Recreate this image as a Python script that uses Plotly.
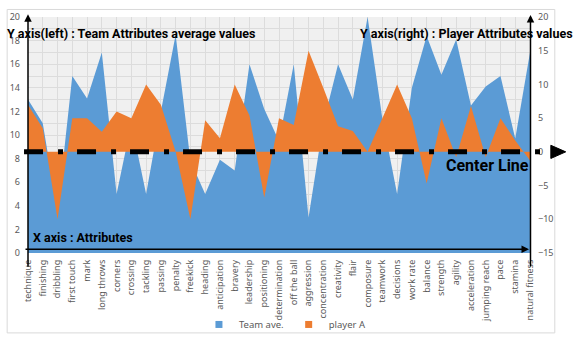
import plotly.graph_objects as go

categories = ["technique", "finishing", "dribbling", "first touch", "mark", "long throws",
              "corners", "crossing", "tackling", "passing", "penalty", "freekick", "heading",
              "anticipation", "bravery", "leadership", "positioning", "determination",
              "off the ball", "aggression", "concentration", "creativity", "flair", "composure",
              "teamwork", "decisions", "work rate", "balance", "strength", "agility",
              "acceleration", "jumping reach", "pace", "stamina", "natural fitness"]

team_ave = [13, 11, 3.5, 15, 13.1, 17, 5, 11, 5, 12, 18.5, 7.8, 5, 7.9, 7, 16, 12.2, 9.5,
            16, 3, 11, 16, 13, 20, 11.4, 5, 14, 18.4, 15.1, 18.1, 12.5, 14.1, 15, 9.7, 17]

player_a = [7, 3.5, -10, 5, 5, 3, 6, 5, 10, 7, 0, -10, 4.7, 2, 10, 5.4, -6.8, 5,
            4, 15, 9.5, 3.8, 3.1, 0, 5, 10, 5, -4.7, 5, -0.8, 6.8, -0.8, 5, 1.7, -1.3]

left_ticks = list(range(0, 21, 2))
right_ticks = list(range(-15, 21, 5))

W, H = 576, 349
L, R, T, B = 24, 530, 10, 261
BLUE = "#5B9BD5"
ORANGE = "#ED7D31"
GRAY = "#595959"


def px(x):
    return (x - L) / (R - L)


def py(y):
    return (B - y) / (B - T)


y2_min, y2_max = -15, 20
center_y = (0 - y2_min) / (y2_max - y2_min)

fig = go.Figure()
fig.add_trace(go.Scatter(x=categories, y=team_ave, name="Team ave.", mode="none",
                         fill="tozeroy", fillcolor=BLUE, yaxis="y", showlegend=False))
fig.add_trace(go.Scatter(x=categories, y=player_a, name="player A", mode="none",
                         fill="tozeroy", fillcolor=ORANGE, yaxis="y2", showlegend=False))
# legend entries (square swatches like the original)
fig.add_trace(go.Scatter(x=[None], y=[None], name="Team ave.", mode="markers",
                         marker=dict(symbol="square", size=7, color=BLUE)))
fig.add_trace(go.Scatter(x=[None], y=[None], name="player A", mode="markers",
                         marker=dict(symbol="square", size=7, color=ORANGE)))

shapes = [
    # outer chart frame
    dict(type="rect", xref="paper", yref="paper", x0=px(3), x1=px(555), y0=py(346), y1=py(2),
         line=dict(color="#d9d9d9", width=1), layer="below"),
    # center line
    dict(type="line", xref="paper", yref="paper", x0=px(20), x1=px(545), y0=center_y, y1=center_y,
         line=dict(color="black", width=5, dash="19px,15px,5px,14px")),
    dict(type="path", xref="paper", yref="paper",
         path=f"M{px(551)},{center_y + 7/(B-T)} L{px(566)},{center_y} L{px(551)},{center_y - 7/(B-T)} Z",
         fillcolor="black", line=dict(color="black", width=1)),
]

tf = dict(family="Roboto", size=12.5, color="black", weight="bold")
annotations = [
    dict(xref="paper", yref="paper", x=px(1), y=py(28), xanchor="left", yanchor="middle",
         text="Y axis(left) : Team Attributes average values", showarrow=False, font=tf),
    dict(xref="paper", yref="paper", x=px(575), y=py(28), xanchor="right", yanchor="middle",
         text="Y axis(right) : Player Attributes values", showarrow=False, font=tf),
    dict(xref="paper", yref="paper", x=px(27), y=py(245), xanchor="left", yanchor="middle",
         text="X axis : Attributes", showarrow=False, font=tf),
    dict(xref="paper", yref="paper", x=px(443), y=py(168), xanchor="left", yanchor="middle",
         text="Center Line", showarrow=False,
         font=dict(family="Roboto", size=16, color="black", weight="bold")),
    # axis arrows
    dict(xref="paper", yref="paper", x=px(24), y=py(7), ax=0, ay=254, text="", showarrow=True,
         arrowhead=2, arrowsize=1, arrowwidth=1.5, arrowcolor="black", standoff=0),
    dict(xref="paper", yref="paper", x=px(530.5), y=py(8), ax=0, ay=253, text="", showarrow=True,
         arrowhead=2, arrowsize=1, arrowwidth=1.5, arrowcolor="black", standoff=0),
    dict(xref="paper", yref="paper", x=px(529), y=py(257), ax=-505, ay=0, text="", showarrow=True,
         arrowhead=2, arrowsize=1, arrowwidth=1.5, arrowcolor="black", standoff=0),
]

tick_font = dict(family="Noto Sans", size=9, color=GRAY)
legend_font = dict(family="Noto Sans", size=9.5, color=GRAY)

fig.update_layout(
    width=W, height=H,
    margin=dict(l=L, r=W - R, t=T, b=H - B),
    paper_bgcolor="white",
    plot_bgcolor="#f0f0f0",
    xaxis=dict(type="category", range=[0, len(categories) - 1], showgrid=True,
               gridcolor="#dcdcdc", gridwidth=1, tickangle=-90, tickfont=tick_font,
               ticks="", showline=False, zeroline=False, ticklabelstandoff=4),
    yaxis=dict(range=[0, 20], tickvals=left_ticks, showgrid=True, gridcolor="#dcdcdc",
               minor=dict(dtick=1, showgrid=True, gridcolor="#dcdcdc"),
               tickfont=tick_font, ticks="", showline=False, zeroline=False,
               ticklabelstandoff=7),
    yaxis2=dict(range=[y2_min, y2_max], tickvals=right_ticks, overlaying="y", side="right",
                showgrid=False, tickfont=tick_font, ticks="", showline=False, zeroline=False,
                ticklabelstandoff=7),
    legend=dict(orientation="h", x=px(283), xanchor="center", y=py(337), yanchor="middle",
                font=legend_font, bgcolor="rgba(0,0,0,0)", itemwidth=30, tracegroupgap=0),
    shapes=shapes,
    annotations=annotations,
)

fig.write_html("out.html")
